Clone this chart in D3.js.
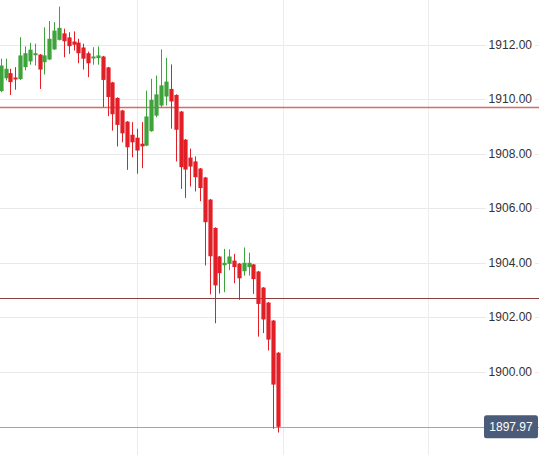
<!DOCTYPE html>
<html><head><meta charset="utf-8">
<script src="https://cdn.jsdelivr.net/npm/d3@7"></script>
<style>body{margin:0;background:#fff}svg{display:block}</style>
</head><body>
<svg id="c" width="539" height="455"></svg>
<script>
const opens  = [1910.29,1910.76,1910.95,1910.79,1910.73,1911.17,1911.38,1911.61,1911.63,1911.35,1911.45,1911.82,1912.17,1912.41,1912.26,1912.11,1912.07,1911.89,1911.68,1911.50,1911.50,1911.56,1911.16,1910.61,1910.04,1909.58,1909.17,1908.69,1908.58,1908.36,1908.29,1908.82,1909.39,1909.76,1910.09,1910.37,1910.15,1909.54,1908.51,1907.85,1907.71,1907.45,1907.12,1906.31,1905.27,1904.22,1903.90,1903.95,1904.07,1903.96,1903.68,1903.83,1903.93,1903.67,1903.08,1902.53,1901.87,1900.69];
const highs  = [1911.48,1911.48,1911.11,1911.17,1912.27,1911.93,1912.06,1912.03,1911.65,1912.63,1912.86,1912.82,1913.39,1912.58,1912.45,1912.48,1912.21,1912.03,1911.74,1911.90,1911.93,1911.58,1911.18,1910.63,1910.06,1909.60,1909.19,1909.15,1908.91,1909.15,1910.31,1910.74,1910.86,1911.82,1911.51,1911.27,1910.17,1909.56,1908.53,1908.18,1907.89,1907.47,1907.14,1906.33,1905.29,1904.24,1904.50,1904.48,1904.32,1903.98,1904.55,1904.36,1903.95,1903.69,1903.10,1902.55,1901.89,1900.71];
const lows   = [1910.25,1910.68,1910.15,1910.34,1910.70,1911.05,1911.26,1911.23,1910.37,1910.90,1911.43,1911.80,1912.15,1911.53,1911.66,1911.78,1911.31,1911.08,1910.80,1911.26,1911.26,1909.70,1909.37,1908.84,1908.26,1908.41,1907.40,1907.86,1907.26,1907.46,1908.27,1908.80,1909.33,1909.70,1909.76,1908.91,1907.71,1906.70,1906.37,1906.79,1906.61,1906.25,1903.89,1902.83,1901.77,1902.86,1902.91,1903.72,1903.24,1902.63,1903.52,1903.52,1902.85,1901.28,1901.41,1900.77,1897.90,1897.76];
const closes = [1911.23,1911.11,1910.62,1910.73,1911.60,1911.68,1911.81,1911.68,1911.08,1911.60,1912.21,1912.51,1912.61,1912.12,1911.94,1911.99,1911.68,1911.48,1911.31,1911.56,1911.60,1910.70,1910.07,1909.44,1909.05,1908.74,1908.23,1908.41,1908.11,1908.26,1909.36,1909.97,1910.17,1910.50,1910.64,1909.91,1908.87,1907.50,1907.41,1907.52,1907.13,1906.73,1905.48,1904.23,1903.16,1903.61,1903.99,1904.22,1903.83,1903.42,1903.99,1903.99,1903.39,1902.48,1901.91,1901.17,1899.52,1897.97];
const yTicks = [1900, 1902, 1904, 1906, 1908, 1910, 1912];
const xGridIdx = [28, 58, 88];
const levels = [1909.69, 1902.68];
const lastPrice = 1897.97;

const W = 539, H = 455;
const svg = d3.select("#c");
const x = d3.scaleLinear().domain([0, 57]).range([0.7, 277.7]);
const y = d3.scaleLinear().domain([1900, 1912]).range([371.5, 44.5]);
const bodyW = 4.2;
const GREEN = "#3ea33a", RED = "#e21f26";

// grid
svg.append("g").selectAll("line").data(yTicks).join("line")
  .attr("x1", 0).attr("x2", W)
  .attr("y1", d => Math.round(y(d)) + 0.5).attr("y2", d => Math.round(y(d)) + 0.5)
  .attr("stroke", "#e9e9e9").attr("stroke-width", 1);
svg.append("g").selectAll("line").data(xGridIdx).join("line")
  .attr("x1", d => Math.round(x(d)) + 0.5).attr("x2", d => Math.round(x(d)) + 0.5)
  .attr("y1", 0).attr("y2", H)
  .attr("stroke", "#ececec").attr("stroke-width", 1);

// level lines
svg.append("line").attr("x1", 0).attr("x2", W)
  .attr("y1", y(levels[0])).attr("y2", y(levels[0]))
  .attr("stroke", "#d86a6a").attr("stroke-width", 1.5);
svg.append("line").attr("x1", 0).attr("x2", W)
  .attr("y1", Math.round(y(levels[1])) + 0.5).attr("y2", Math.round(y(levels[1])) + 0.5)
  .attr("stroke", "#8a4040").attr("stroke-width", 1);

// price line
svg.append("line").attr("x1", 0).attr("x2", W)
  .attr("y1", Math.round(y(lastPrice)) + 0.5).attr("y2", Math.round(y(lastPrice)) + 0.5)
  .attr("stroke", "#9aa6bb").attr("stroke-width", 1);

// candles
const idx = d3.range(opens.length);
const g = svg.append("g");
g.selectAll("line.w").data(idx).join("line").attr("class", "w")
  .attr("x1", i => Math.round(x(i)) + 0.5).attr("x2", i => Math.round(x(i)) + 0.5)
  .attr("y1", i => y(highs[i])).attr("y2", i => y(lows[i]))
  .attr("stroke", i => closes[i] >= opens[i] ? GREEN : RED).attr("stroke-width", 1);
g.selectAll("rect").data(idx).join("rect")
  .attr("x", i => Math.round(x(i)) + 0.5 - bodyW / 2)
  .attr("width", bodyW)
  .attr("y", i => Math.min(y(opens[i]), y(closes[i])))
  .attr("height", i => Math.max(2, Math.abs(y(opens[i]) - y(closes[i]))))
  .attr("fill", i => closes[i] >= opens[i] ? GREEN : RED);

// y labels
const lab = svg.append("g");
yTicks.forEach(t => {
  const yy = y(t);
  lab.append("rect").attr("x", 486).attr("y", yy - 7).attr("width", 49).attr("height", 14).attr("fill", "#fff");
  lab.append("text").attr("x", 532).attr("y", yy).attr("dy", "0.35em")
    .attr("text-anchor", "end").attr("font-family", "Liberation Sans, Arial, sans-serif")
    .attr("font-size", 12).attr("fill", "#333").text(t.toFixed(2));
});

// price label
const py = y(lastPrice);
svg.append("rect").attr("x", 484).attr("y", py - 11.5).attr("width", 54).attr("height", 23)
  .attr("rx", 2.5).attr("fill", "#4b5b7a");
svg.append("text").attr("x", 511).attr("y", py).attr("dy", "0.35em")
  .attr("text-anchor", "middle").attr("font-family", "Liberation Sans, Arial, sans-serif")
  .attr("font-size", 12).attr("fill", "#fff").text(lastPrice.toFixed(2));
</script>
</body></html>
